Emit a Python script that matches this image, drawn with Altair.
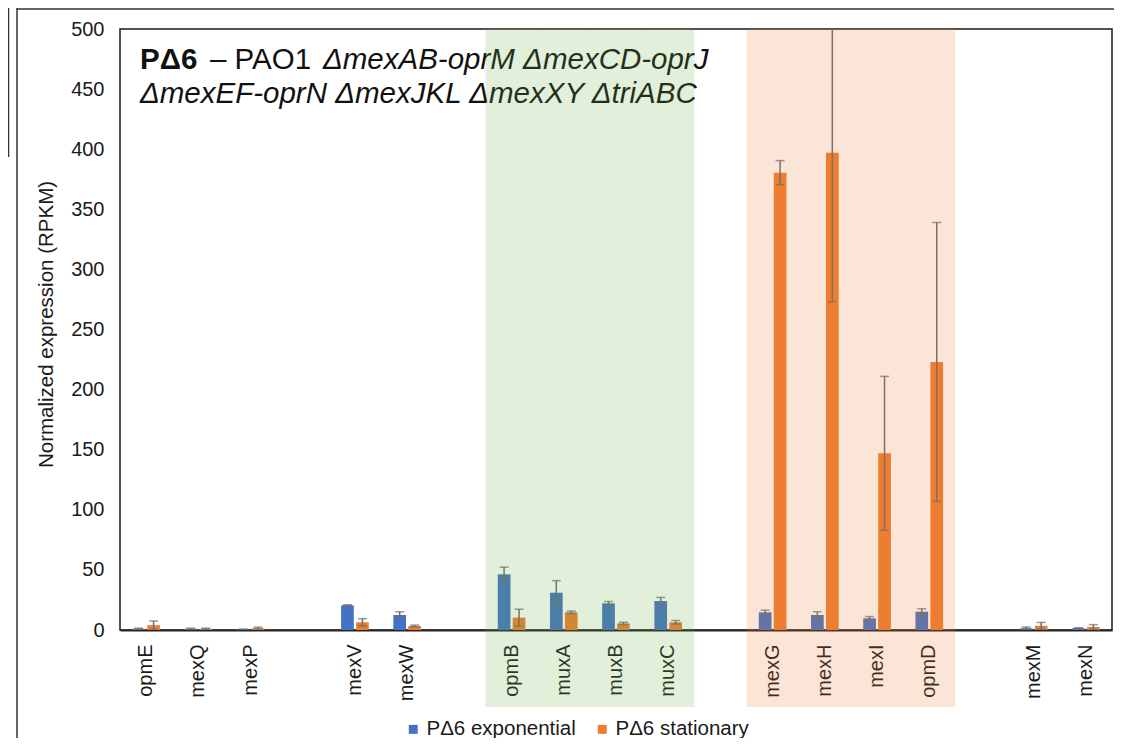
import altair as alt
import pandas as pd

# ---- data ----
categories = ["opmE", "mexQ", "mexP", "gap1", "mexV", "mexW", "gap2",
              "opmB", "muxA", "muxB", "muxC", "gap3",
              "mexG", "mexH", "mexI", "opmD", "gap4", "mexM", "mexN"]
exp_vals = [1.0, 1.0, 0.5, None, 20.5, 12.5, None, 46.3, 31.0, 22.2, 24.1, None,
            14.7, 12.5, 9.7, 15.2, None, 1.5, 1.5]
exp_err = [0.5, 0.5, 0.3, None, 0.5, 2.7, None, 6.0, 10.0, 1.5, 3.0, None,
           1.8, 2.7, 1.5, 2.5, None, 1.0, 0.4]
stat_vals = [4.0, 1.0, 1.5, None, 6.4, 3.3, None, 10.3, 14.7, 5.5, 6.4, None,
             380.5, 397.0, 147.0, 223.0, None, 3.5, 2.5]
stat_err = [3.5, 0.5, 0.8, None, 3.0, 0.8, None, 7.0, 1.0, 1.0, 1.5, None,
            10.0, 124.0, 64.0, 116.0, None, 2.8, 2.0]
series = ["PΔ6 exponential", "PΔ6 stationary"]
series_colors = ["#4472C4", "#ED7D31"]
green_group = ["opmB", "muxA", "muxB", "muxC"]
orange_group = ["mexG", "mexH", "mexI", "opmD"]
y_ticks = [0, 50, 100, 150, 200, 250, 300, 350, 400, 450, 500]
y_title = "Normalized expression (RPKM)"
title_bold = ["PΔ6"]
title_plain = ["– PAO1"]
title_italic1 = ["ΔmexAB-oprM ΔmexCD-oprJ"]
title_italic2 = ["ΔmexEF-oprN ΔmexJKL ΔmexXY ΔtriABC"]

rows = []
for i, c in enumerate(categories):
    for s, vals, errs in ((series[0], exp_vals, exp_err), (series[1], stat_vals, stat_err)):
        v = vals[i]
        if v is None:
            continue
        e = errs[i]
        rows.append({"cat": c, "series": s, "value": v,
                     "lo": max(0.0, v - e), "hi": v + e})
df = pd.DataFrame(rows)

W, H = 992, 601
FONT = "Liberation Sans"
TFS = 29.5

xenc = alt.X("cat:N", sort=categories,
             scale=alt.Scale(domain=categories, paddingInner=0.47, paddingOuter=0.235),
             axis=alt.Axis(title=None, labelAngle=-90, labelFontSize=20, labelColor="#1a1a1a",
                           labelPadding=14, ticks=False, domainColor="#262626", domainWidth=2,
                           labelFont=FONT,
                           labelExpr="indexof(datum.label, 'gap') == 0 ? '' : datum.label"))
xoff = alt.XOffset("series:N", sort=series,
                   scale=alt.Scale(domain=series, paddingInner=0.15, paddingOuter=0))
yscale = alt.Scale(domain=[0, 500], nice=False, zero=True)

base = alt.Chart(df)
bars = base.mark_bar().encode(
    x=xenc,
    xOffset=xoff,
    y=alt.Y("value:Q", scale=yscale,
            axis=alt.Axis(title=y_title, values=y_ticks, grid=False, ticks=False, domain=False,
                          labelFontSize=20, labelColor="#1a1a1a", labelPadding=16, labelFont=FONT,
                          titleFontSize=20.5, titleFontWeight="normal", titleColor="#1a1a1a",
                          titleFont=FONT, titlePadding=14, titleY=295)),
    color=alt.Color("series:N", sort=series,
                    scale=alt.Scale(domain=series, range=series_colors),
                    legend=alt.Legend(title=None, orient="none", direction="horizontal",
                                      legendX=283, legendY=690, symbolType="square",
                                      symbolSize=80, symbolStrokeWidth=0, labelFontSize=20.5,
                                      labelColor="#1a1a1a", labelFont=FONT, columnPadding=16,
                                      symbolOffset=0, labelOffset=3)),
)
rules = base.mark_rule(color="#6b6b6b", strokeWidth=1.5, clip=True).encode(
    x=xenc, xOffset=xoff, y=alt.Y("lo:Q", scale=yscale), y2="hi:Q")
caps_hi = base.mark_tick(color="#6b6b6b", thickness=1.5, size=9, orient="horizontal",
                         clip=True).encode(x=xenc, xOffset=xoff, y=alt.Y("hi:Q", scale=yscale))
caps_lo = base.mark_tick(color="#6b6b6b", thickness=1.5, size=9, orient="horizontal",
                         clip=True).encode(x=xenc, xOffset=xoff, y=alt.Y("lo:Q", scale=yscale))

data_layer = alt.layer(bars, rules, caps_hi, caps_lo)

def txt(lines, weight, style, xpx, ypx):
    return alt.Chart(pd.DataFrame({"t": lines})).mark_text(
        align="left", baseline="alphabetic", fontSize=TFS, font=FONT,
        fontWeight=weight, fontStyle=style, color="#111111"
    ).encode(text="t:N", x=alt.value(xpx), y=alt.value(ypx))

t1 = txt(title_bold, "bold", "normal", 20, 40)
t2 = txt(title_plain, "normal", "normal", 90, 40)
t3 = txt(title_italic1, "normal", "italic", 203, 40)
t4 = txt(title_italic2, "normal", "italic", 20, 74)

shade_x = alt.X("cat:N", sort=categories,
                scale=alt.Scale(domain=categories, paddingInner=0, paddingOuter=0), axis=None)
shade_g = alt.Chart(pd.DataFrame({"cat": green_group})).mark_rect(
    color="#70AD47", opacity=0.2).encode(x=shade_x, y=alt.value(0), y2=alt.value(678))
shade_o = alt.Chart(pd.DataFrame({"cat": orange_group})).mark_rect(
    color="#ED7D31", opacity=0.2).encode(x=shade_x, y=alt.value(0), y2=alt.value(678))

# outer chart-area borders (Excel chart frame and the edge of a neighbouring box)
frame_v = alt.Chart(pd.DataFrame({"k": [0]})).mark_rule(color="#333333", strokeWidth=1.5).encode(
    x=alt.value(-103), y=alt.value(-21), y2=alt.value(720))
frame_h = alt.Chart(pd.DataFrame({"k": [0]})).mark_rule(color="#333333", strokeWidth=1.5).encode(
    x=alt.value(-103), x2=alt.value(W + 10), y=alt.value(-20))
frame_box = alt.Chart(pd.DataFrame({"k": [0]})).mark_rule(color="#333333", strokeWidth=1.5).encode(
    x=alt.value(-111.5), y=alt.value(-21), y2=alt.value(128))

chart = alt.layer(data_layer, t1, t2, t3, t4, shade_g, shade_o,
                  frame_v, frame_h, frame_box).resolve_scale(
    x="independent"
).properties(
    width=W, height=H,
    autosize=alt.AutoSizeParams(type="none"),
    padding={"left": 112, "top": 21, "right": 2, "bottom": 108},
).configure_view(stroke="#1a1a1a", strokeWidth=1.5).configure_axis(zindex=0)

chart.save("out.html", embed_options={"renderer": "svg", "actions": False})
